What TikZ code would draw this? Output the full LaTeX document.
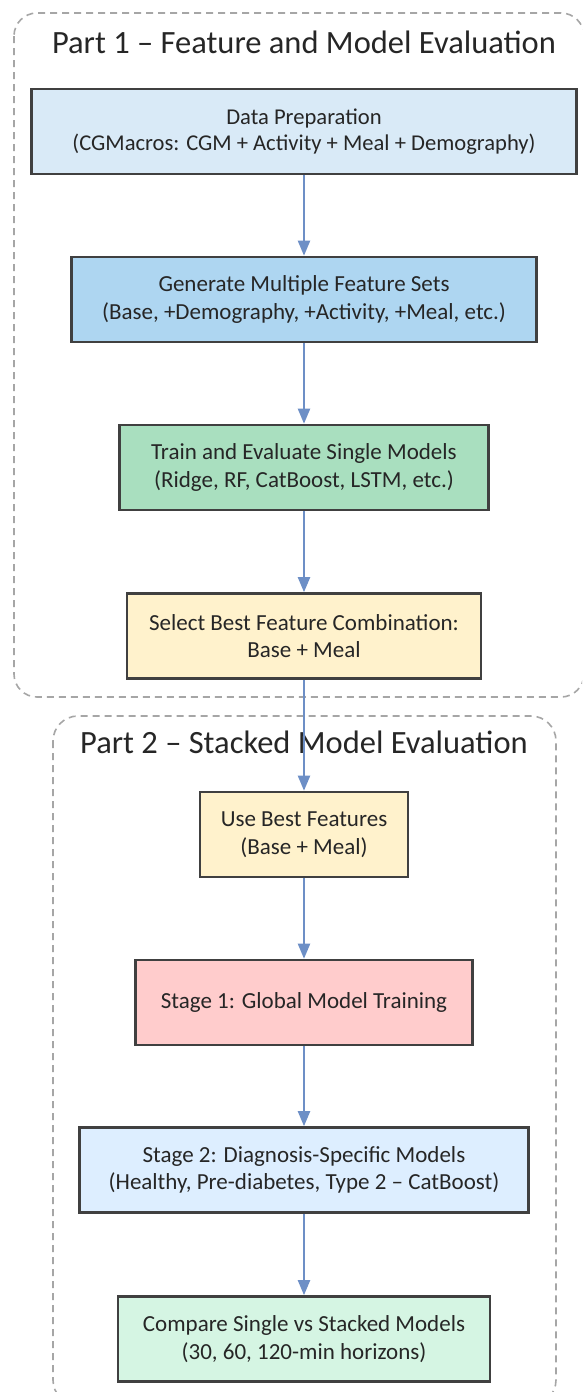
\documentclass[tikz,border=0pt]{standalone}
\usepackage{fontspec}
\setmainfont{Carlito}
\usetikzlibrary{arrows.meta}

\definecolor{prepfill}{HTML}{D9EAF7}
\definecolor{featfill}{HTML}{AED6F1}
\definecolor{trainfill}{HTML}{A9DFBF}
\definecolor{bestfill}{HTML}{FFF2CC}
\definecolor{globalfill}{HTML}{FFCCCC}
\definecolor{diagfill}{HTML}{DDEEFF}
\definecolor{cmpfill}{HTML}{D5F5E3}
\definecolor{boxline}{HTML}{404040}
\definecolor{flowline}{HTML}{6D8FC6}
\definecolor{groupline}{HTML}{A6A6A6}
\definecolor{textcol}{HTML}{262626}

\tikzset{
  stepbox/.style={draw=boxline, line width=2.6pt, minimum height=85pt,
    inner sep=0pt, align=center, text=textcol,
    font=\fontsize{23}{27.5}\selectfont},
  flow/.style={draw=flowline, line width=2.2pt,
    -{Triangle[width=12pt,length=15pt]}},
  group/.style={draw=groupline, line width=1.6pt, dash pattern=on 7pt off 5pt},
  grouptitle/.style={anchor=base, text=textcol, font=\fontsize{32.5}{38}\selectfont},
}

\begin{document}
\begin{tikzpicture}[x=1pt,y=-1pt]
\useasboundingbox (0,0) rectangle (582,1392);
\clip (0,0) rectangle (582,1392);

% dashed group frames
\draw[group, rounded corners=23pt] (14,13) rectangle (584,697);
\draw[group, rounded corners=25pt] (53,716) rectangle (556,1405);

\node[grouptitle] (t1) at (304,53) {Part 1 – Feature and Model Evaluation};
\node[grouptitle] (t2) at (304,753) {Part 2 – Stacked Model Evaluation};

% Part 1
\node[stepbox, fill=prepfill, minimum width=545pt,
      font=\fontsize{22.6}{26.5}\selectfont] (prep) at (304,131.5)
  {Data Preparation\\(CGMacros: CGM + Activity + Meal + Demography)};
\node[stepbox, fill=featfill, minimum width=465pt] (feat) at (304,299.5)
  {Generate Multiple Feature Sets\\(Base, +Demography, +Activity, +Meal, etc.)};
\node[stepbox, fill=trainfill, minimum width=369pt] (train) at (304,467.5)
  {Train and Evaluate Single Models\\(Ridge, RF, CatBoost, LSTM, etc.)};
\node[stepbox, fill=bestfill, minimum width=354pt] (select) at (304,636)
  {Select Best Feature Combination:\\Base + Meal};

% Part 2
\node[stepbox, fill=bestfill, minimum width=208pt] (use) at (304,834.5)
  {Use Best Features\\(Base + Meal)};
\node[stepbox, fill=globalfill, minimum width=337pt] (global) at (304,1002.5)
  {Stage 1: Global Model Training};
\node[stepbox, fill=diagfill, minimum width=449pt] (diag) at (304,1170)
  {Stage 2: Diagnosis-Specific Models\\(Healthy, Pre-diabetes, Type 2 – CatBoost)};
\node[stepbox, fill=cmpfill, minimum width=372pt] (cmp) at (304,1339)
  {Compare Single vs Stacked Models\\(30, 60, 120-min horizons)};

% connectors
\draw[flow] (prep) -- (feat);
\draw[flow] (feat) -- (train);
\draw[flow] (train) -- (select);
\draw[flow] (select) -- (use);
\draw[flow] (use) -- (global);
\draw[flow] (global) -- (diag);
\draw[flow] (diag) -- (cmp);
\end{tikzpicture}
\end{document}
